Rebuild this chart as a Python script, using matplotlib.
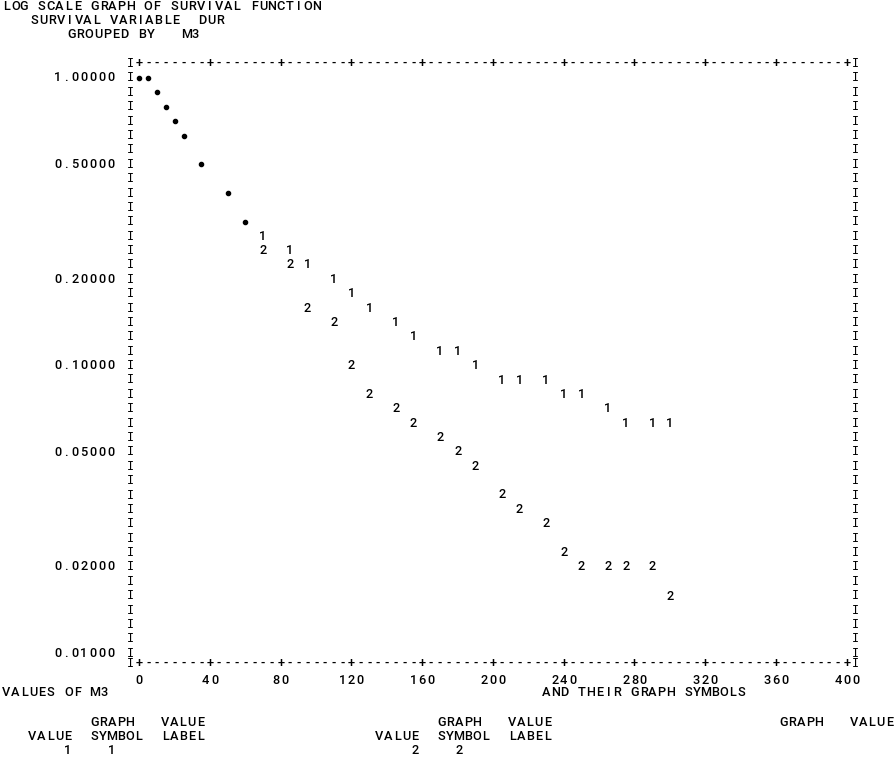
import matplotlib
matplotlib.use("Agg")
import matplotlib.pyplot as plt

# Survival proportion against DUR for the two M3 groups.
# Up to DUR 60 the two groups coincide and are printed as dots.
both_dur = [0, 5, 10, 15, 20, 25, 35, 50, 60]
both_surv = [1.000, 1.000, 0.891, 0.794, 0.708, 0.631, 0.501, 0.398, 0.316]

m3_1_dur = [70, 85, 95, 110, 120, 130, 145, 155, 170, 180,
            190, 205, 215, 230, 240, 250, 265, 275, 290, 300]
m3_1_surv = [0.282, 0.251, 0.224, 0.200, 0.178, 0.158, 0.141, 0.126, 0.112, 0.112,
             0.100, 0.0891, 0.0891, 0.0891, 0.0794, 0.0794, 0.0708, 0.0631, 0.0631, 0.0631]

m3_2_dur = [70, 85, 95, 110, 120, 130, 145, 155, 170, 180,
            190, 205, 215, 230, 240, 250, 265, 275, 290, 300]
m3_2_surv = [0.251, 0.224, 0.158, 0.141, 0.100, 0.0794, 0.0708, 0.0631, 0.0562, 0.0501,
             0.0447, 0.0355, 0.0316, 0.0282, 0.0224, 0.0200, 0.0200, 0.0200, 0.0200, 0.0158]

y_ticks = [1.0, 0.5, 0.2, 0.1, 0.05, 0.02, 0.01]
y_tick_labels = ["1.00000", "0.50000", "0.20000", "0.10000", "0.05000", "0.02000", "0.01000"]
x_ticks = [0, 40, 80, 120, 160, 200, 240, 280, 320, 360, 400]

W, H = 894, 757
PITCH = 8.85          # printer column width in pixels
FONT = dict(family="Roboto", fontweight="medium", fontsize=9.2, color="black")
FRAME = dict(family="DejaVu Sans Mono", fontsize=8.6, color="black")


def fxy(px, py):
    # page position in pixels (top-left origin) -> figure fraction
    return px / W, 1 - py / H


def put(px, py, s):
    # one character per printer column, starting at pixel px
    for i, ch in enumerate(s):
        if ch != " ":
            fig.text(*fxy(px + (i + 0.5) * PITCH, py), ch,
                     ha="center", va="center", **FONT)


fig = plt.figure(figsize=(W / 100, H / 100), dpi=100)
fig.patch.set_facecolor("white")

# axes placed so that one print column = 5 DUR units, one print row = 1/20 decade
ax = fig.add_axes([0.13604, 0.09913, 0.83084, 0.83583])
ax.set_yscale("log")
ax.set_xlim(-10, 410)
ax.set_ylim(10 ** -2.1, 10 ** 0.1)
ax.axis("off")

# frame drawn in printer characters
top_row = 10 ** 0.05
bottom_row = 10 ** -2.035
rows = [10 ** (-k / 20) for k in range(-1, 41)] + [bottom_row]
for y in rows:
    ax.text(-5, y, "I", ha="center", va="center", **FRAME)
    ax.text(405, y, "I", ha="center", va="center", **FRAME)
for x in range(0, 401, 5):
    ch = "+" if x % 40 == 0 else "-"
    ax.text(x, top_row, ch, ha="center", va="center", **FONT)
    ax.text(x, bottom_row, ch, ha="center", va="center", **FONT)

# plotted survival curves
ax.plot(both_dur, both_surv, "o", ms=3, color="black", clip_on=False)
for x, y in zip(m3_1_dur, m3_1_surv):
    ax.text(x, y, "1", ha="center", va="center", **FONT)
for x, y in zip(m3_2_dur, m3_2_surv):
    ax.text(x, y, "2", ha="center", va="center", **FONT)

# y labels, right edge at pixel 115
for y, lab in zip(y_ticks, y_tick_labels):
    py = H - ax.transData.transform((0, y))[1]
    put(115 - len(lab) * PITCH, py, lab)

# x labels, centred on the '+' marks
for x in x_ticks:
    cx = ax.transData.transform((x, 1))[0]
    lab = str(x)
    put(cx - len(lab) * PITCH / 2, 680, lab)

# page text
page = [
    (2, 7, "LOG SCALE GRAPH OF SURVIVAL FUNCTION"),
    (30, 20.5, "SURVIVAL VARIABLE  DUR"),
    (67, 34, "GROUPED BY   M3"),
    (2, 693, "VALUES OF M3"),
    (542, 693, "AND THEIR GRAPH SYMBOLS"),
    (90, 723, "GRAPH   VALUE"),
    (28, 737, "VALUE  SYMBOL  LABEL"),
    (28, 750, "    1    1"),
    (437, 723, "GRAPH   VALUE"),
    (375, 737, "VALUE  SYMBOL  LABEL"),
    (375, 750, "    2    2"),
    (779, 723, "GRAPH   VALUE"),
]
for px, py, s in page:
    put(px, py, s)

fig.savefig("out.png", dpi=100, facecolor="white")
